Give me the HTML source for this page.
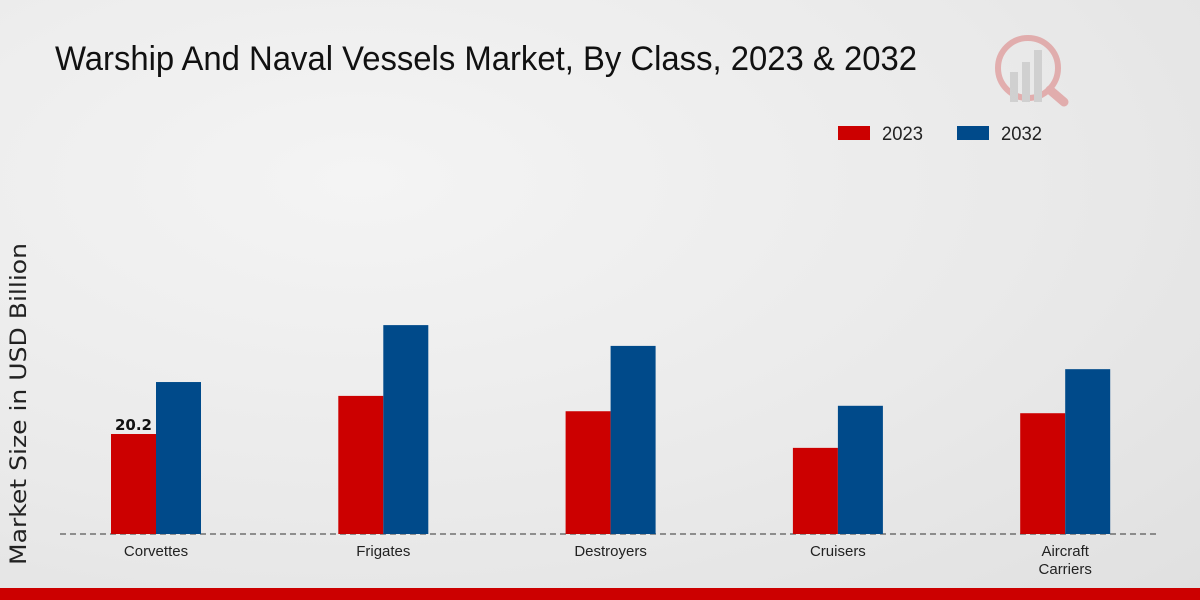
<!DOCTYPE html>
<html><head><meta charset="utf-8"><style>
html,body{margin:0;padding:0}
body{width:1200px;height:600px;overflow:hidden;background:radial-gradient(ellipse at 30% 30%,#f4f4f4 0%,#eaeaea 55%,#e0e0e0 100%);font-family:"Liberation Sans",sans-serif;position:relative}
</style></head><body>
<svg id="chart" width="1200" height="600" style="position:absolute;left:0;top:0">
<text x="55" y="70" font-size="34" fill="#111" textLength="862" lengthAdjust="spacingAndGlyphs" font-family="Liberation Sans, sans-serif">Warship And Naval Vessels Market, By Class, 2023 &amp; 2032</text>
<text transform="translate(26,404) rotate(-90)" text-anchor="middle" font-size="22" textLength="322" lengthAdjust="spacingAndGlyphs" fill="#222" font-family="DejaVu Sans, sans-serif">Market Size in USD Billion</text>
<g>
<rect x="838" y="126" width="32" height="14" fill="#cc0000"/>
<text x="882" y="140" font-size="19" textLength="41" lengthAdjust="spacingAndGlyphs" fill="#222">2023</text>
<rect x="957" y="126" width="32" height="14" fill="#004a8a"/>
<text x="1001" y="140" font-size="19" textLength="41" lengthAdjust="spacingAndGlyphs" fill="#222">2032</text>
</g>
<g opacity="0.25">
<circle cx="1028" cy="68" r="30" fill="none" stroke="#cc0000" stroke-width="6"/>
<line x1="1050" y1="90" x2="1064" y2="102" stroke="#cc0000" stroke-width="9" stroke-linecap="round"/>
<rect x="1010" y="72" width="8" height="30" fill="#888"/><rect x="1022" y="62" width="8" height="40" fill="#888"/><rect x="1034" y="50" width="8" height="52" fill="#888"/>
</g>
<line x1="60" y1="534" x2="1160" y2="534" stroke="#333" stroke-width="1" stroke-dasharray="6,4"/>
<g id="bars"></g>
<rect x="0" y="588" width="1200" height="12" fill="#cc0000"/>
</svg>
<script>
const categories=["Corvettes","Frigates","Destroyers","Cruisers","Aircraft\nCarriers"];
const values2023=[20.2,27.9,24.8,17.4,24.4];
const values2032=[30.7,42.2,38.0,25.9,33.3];
const valueLabels=["20.2","","","",""];
const NS="http://www.w3.org/2000/svg";
const g=document.getElementById("bars");
const base=534, scale=4.95, x0=156, step=227.3, bw=45;
const y=v=>base-v*scale;
const xc=i=>x0+i*step;
function mk(tag,attrs){const e=document.createElementNS(NS,tag);for(const k in attrs)e.setAttribute(k,attrs[k]);g.appendChild(e);return e;}
categories.forEach((c,i)=>{
  const r1=mk("rect",{x:xc(i)-bw,y:y(values2023[i]),width:bw,height:values2023[i]*scale,fill:"#cc0000"});
  
  
  const r2=mk("rect",{x:xc(i),y:y(values2032[i]),width:bw,height:values2032[i]*scale,fill:"#004a8a"});
  
  
  if(valueLabels[i]){
    const t=mk("text",{x:xc(i)-bw/2,y:y(values2023[i])-4,"text-anchor":"middle","font-size":"15","font-weight":"bold",fill:"#111","font-family":"DejaVu Sans, sans-serif"});
    t.textContent=valueLabels[i];
    
    
  }
  c.split("\n").forEach((line,j)=>{
    const t=mk("text",{x:xc(i),y:556+j*18,"text-anchor":"middle","font-size":"15",fill:"#222"});
    t.textContent=line;
    
    
  });
});
</script>
</body></html>
